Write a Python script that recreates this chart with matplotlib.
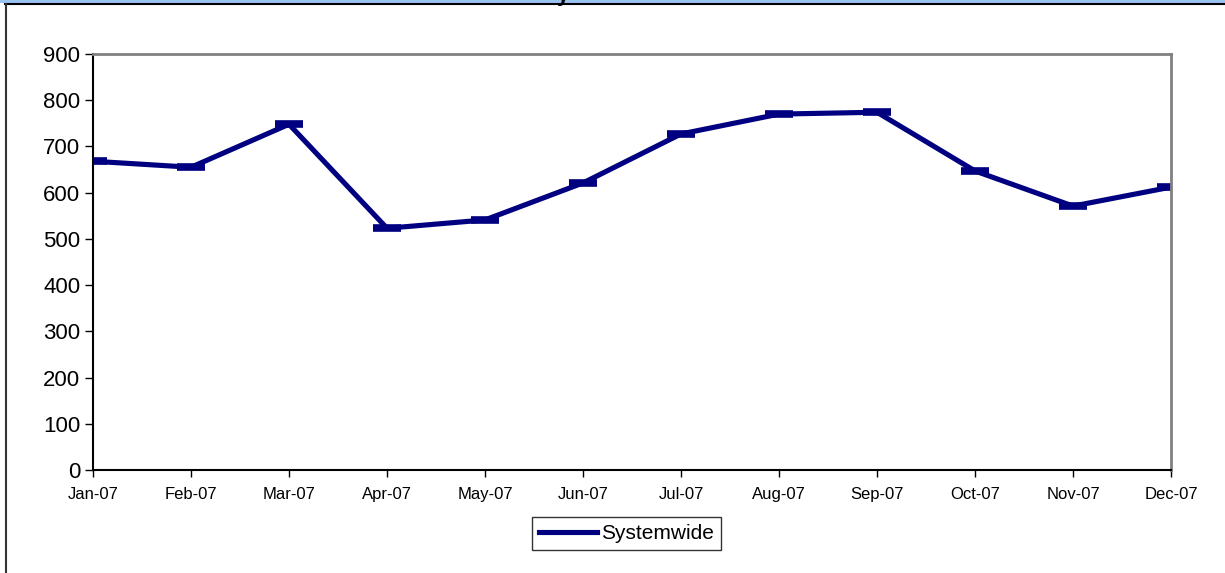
import numpy as np
import matplotlib
matplotlib.use("Agg")
import matplotlib.pyplot as plt
from matplotlib.patches import Rectangle
from matplotlib.lines import Line2D

plt.rcParams['font.family'] = ['Liberation Sans', 'DejaVu Sans']

months = ['Jan-07', 'Feb-07', 'Mar-07', 'Apr-07', 'May-07', 'Jun-07',
          'Jul-07', 'Aug-07', 'Sep-07', 'Oct-07', 'Nov-07', 'Dec-07']
systemwide = [668, 655, 748, 523, 541, 621, 727, 770, 774, 647, 571, 612]
yticks = [0, 100, 200, 300, 400, 500, 600, 700, 800, 900]

W, H = 1225, 573
fig = plt.figure(figsize=(W / 100, H / 100), dpi=100)

# frame decorations (blue strip on top, black border)
fig.add_artist(Rectangle((0, 1 - 3 / H), 1, 3 / H, transform=fig.transFigure,
                         facecolor='#99c4f0', edgecolor='none'))
fig.add_artist(Line2D([5 / W, 1], [1 - 3.5 / H, 1 - 3.5 / H], transform=fig.transFigure,
                      color='black', lw=1.5))
fig.add_artist(Line2D([5.5 / W, 5.5 / W], [0, 1 - 3.5 / H], transform=fig.transFigure,
                      color='#333333', lw=1.5))
# clipped title (only the descender shows)
fig.text(563 / W, 1 - 1 / H, 'y', ha='center', va='baseline', fontsize=16,
         fontweight='bold')

ax = fig.add_axes([93 / W, (H - 470) / H, (1171 - 93) / W, (470 - 54) / H])
x = np.arange(len(months))
ax.plot(x, systemwide, color='#000080', lw=3.7, marker='_', ms=20, mew=5.5,
        label='Systemwide', solid_joinstyle='miter')

ax.set_xlim(0, len(months) - 1)
ax.set_ylim(0, 900)
ax.set_yticks(yticks)
ax.set_xticks(x)
ax.set_xticklabels(months, fontsize=12)
ax.tick_params(axis='y', labelsize=16, length=6, width=1, direction='out', pad=3)
ax.tick_params(axis='x', length=5, width=1, direction='out', pad=7)

for s in ['top', 'right']:
    ax.spines[s].set_color('#808080')
    ax.spines[s].set_linewidth(2)
for s in ['left', 'bottom']:
    ax.spines[s].set_color('black')
    ax.spines[s].set_linewidth(1.5)

leg = ax.legend(loc='upper center', bbox_to_anchor=(0.495, -0.112), fontsize=15,
                frameon=True, fancybox=False, edgecolor='black', handlelength=2.75,
                handletextpad=0.2, borderpad=0.35, borderaxespad=0)
leg.get_frame().set_linewidth(1)
for h in leg.legend_handles:
    h.set_marker('')

fig.savefig('out.png', dpi=100)
